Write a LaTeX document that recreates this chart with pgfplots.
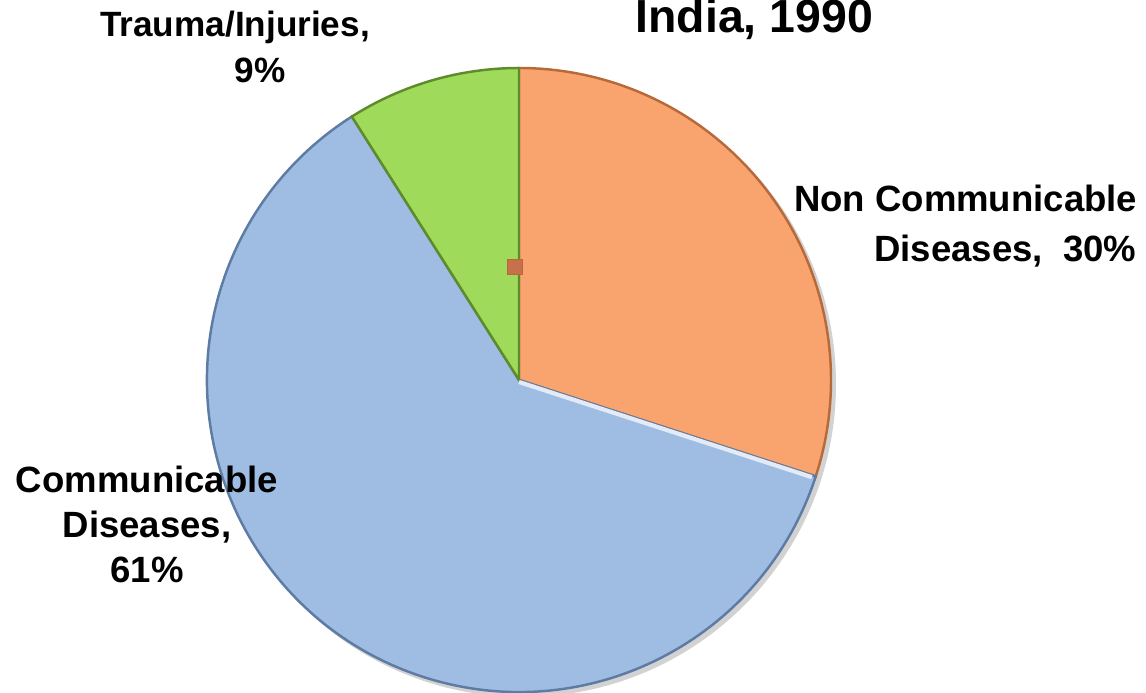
\documentclass[border=0pt]{standalone}
\usepackage{pgfplots}
\pgfplotsset{compat=1.18}
\usepackage{fontspec}
\setmainfont{Liberation Sans}
\definecolor{ncd}{HTML}{F9A46E}
\definecolor{ncdD}{HTML}{B8693A}
\definecolor{cd}{HTML}{9FBCE2}
\definecolor{cdD}{HTML}{5E7BA3}
\definecolor{ti}{HTML}{A0DA5A}
\definecolor{tiD}{HTML}{5E8C2A}
\begin{document}
\begin{tikzpicture}
% slice values (percent)
\def\vNCD{30}
\def\vCD{61}
\def\vTI{9}
\pgfmathsetmacro{\aA}{90}
\pgfmathsetmacro{\aB}{\aA-\vNCD*3.6}
\pgfmathsetmacro{\aC}{\aB-\vCD*3.6}
\pgfmathsetmacro{\aD}{\aC-\vTI*3.6}
\begin{axis}[
  scale only axis, width=11.46cm, height=6.93cm,
  xmin=0, xmax=1146, ymin=0, ymax=693,
  hide axis, clip=false,
]
% shadow
\fill[black!35, opacity=0.5] (axis cs:523,309) circle[radius=3.13cm];
% slices
\filldraw[fill=ncd, draw=ncdD, line width=0.7pt] (axis cs:519,313) -- ++(\aA:3.12cm) arc[start angle=\aA, end angle=\aB, radius=3.12cm] -- cycle;
\filldraw[fill=cd, draw=cdD, line width=0.7pt] (axis cs:519,313) -- ++(\aB:3.12cm) arc[start angle=\aB, end angle=\aC, radius=3.12cm] -- cycle;
\filldraw[fill=ti, draw=tiD, line width=0.7pt] (axis cs:519,313) -- ++(\aC:3.12cm) arc[start angle=\aC, end angle=\aD, radius=3.12cm] -- cycle;
% light highlight on blue slice edge
\draw[white!70!cd, line width=1.2pt] (axis cs:519,311) -- ++(\aB:3.08cm);
% small marker
\addplot[only marks, mark=square*, mark size=2.1pt, mark options={fill=ncd!85!red!80!black, draw=ncdD}] coordinates {(515,426)};
% labels
\node[font=\bfseries\fontsize{13.2}{15}\selectfont, anchor=base west, inner sep=0pt] at (axis cs:635,660) {India, 1990};
\node[font=\bfseries\fontsize{10}{12}\selectfont, anchor=base, inner sep=0pt] at (axis cs:235,656) {Trauma/Injuries,};
\node[font=\bfseries\fontsize{10}{12}\selectfont, anchor=base, inner sep=0pt] at (axis cs:260,610) {9\%};
\node[font=\bfseries\fontsize{10.4}{12}\selectfont, anchor=base east, inner sep=0pt] at (axis cs:1138,481) {Non Communicable};
\node[font=\bfseries\fontsize{10.4}{12}\selectfont, anchor=base east, inner sep=0pt] at (axis cs:1137,431) {Diseases,\ \ 30\%};
\node[font=\bfseries\fontsize{10.4}{12}\selectfont, anchor=base, inner sep=0pt] at (axis cs:147,200) {Communicable};
\node[font=\bfseries\fontsize{10.4}{12}\selectfont, anchor=base, inner sep=0pt] at (axis cs:147,155) {Diseases,};
\node[font=\bfseries\fontsize{10.4}{12}\selectfont, anchor=base, inner sep=0pt] at (axis cs:147,110) {61\%};
\end{axis}
\pgfresetboundingbox
\path (current axis.south west) rectangle (current axis.north east);
\end{tikzpicture}
\end{document}
